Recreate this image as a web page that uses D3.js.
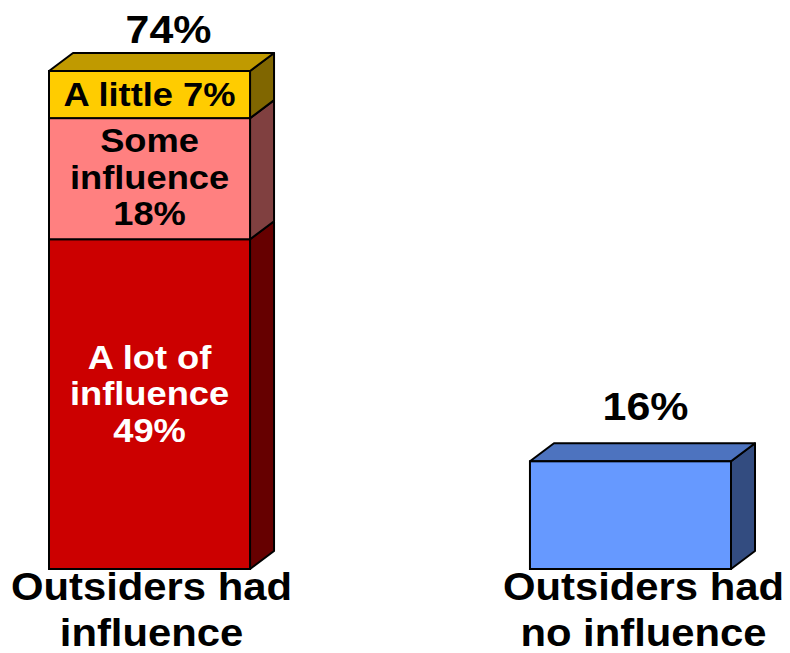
<!DOCTYPE html>
<html>
<head>
<meta charset="utf-8">
<script src="https://cdn.jsdelivr.net/npm/d3@7"></script>
<style>
  body { margin: 0; background: #fff; }
  text { font-family: "Liberation Sans", Arial, sans-serif; font-weight: bold; }
</style>
</head>
<body>
<div class="chart"></div>
<script>
const width = 790;
const height = 653;

// data
const categories = ["Outsiders had influence", "Outsiders had no influence"];
const categoryLines = [["Outsiders had", "influence"], ["Outsiders had", "no influence"]];
const segLabels = [["A lot of", "influence", "49%"], ["Some", "influence", "18%"], ["A little 7%"]];
const segValues = [49, 18, 7];
const noInfluence = 16;
const totals = ["74%", "16%"];

const segColors = [
  { front: "#CC0000", top: "#990000", side: "#660000", text: "#fff" },
  { front: "#FF8080", top: "#C06060", side: "#804040", text: "#000" },
  { front: "#FFCC00", top: "#C09A00", side: "#806600", text: "#000" }
];
const blue = { front: "#6699FF", top: "#4D73BF", side: "#334C80" };

const depthX = 24, depthY = 18;
const stretch = 1.1;

const svg = d3.select(".chart").append("svg").attr("width", width).attr("height", height);

const x = d3.scaleBand()
    .domain(categories)
    .range([49, 731])
    .paddingInner(0.582)
    .paddingOuter(0);

const y = d3.scaleLinear()
    .domain([0, 74])
    .range([569, 71]);

function box(g, x0, w, v0, v1, c, drawTop) {
  const yTop = y(v1), yBot = y(v0);
  g.append("path")
    .attr("d", `M${x0 + w},${yBot} L${x0 + w + depthX},${yBot - depthY} L${x0 + w + depthX},${yTop - depthY} L${x0 + w},${yTop} Z`)
    .attr("fill", c.side).attr("stroke", "#000").attr("stroke-width", 2).attr("stroke-linejoin", "round");
  if (drawTop) {
    g.append("path")
      .attr("d", `M${x0},${yTop} L${x0 + depthX},${yTop - depthY} L${x0 + w + depthX},${yTop - depthY} L${x0 + w},${yTop} Z`)
      .attr("fill", c.top).attr("stroke", "#000").attr("stroke-width", 2).attr("stroke-linejoin", "round");
  }
  g.append("rect")
    .attr("x", x0).attr("y", yTop).attr("width", w).attr("height", yBot - yTop)
    .attr("fill", c.front).attr("stroke", "#000").attr("stroke-width", 2);
}

// multi-line text, centred on cx, slightly widened like the original
function label(g, cx, lines, baseY, lineH, size, fill) {
  const t = g.append("text")
    .attr("transform", `translate(${cx},0) scale(${stretch},1)`)
    .attr("text-anchor", "middle")
    .attr("font-size", size)
    .attr("fill", fill);
  lines.forEach((s, k) => {
    t.append("tspan").attr("x", 0).attr("y", baseY + k * lineH).text(s);
  });
}

const g = svg.append("g");

// stacked bar
const bx = x(categories[0]);
const bw = x.bandwidth();
let cum = 0;
segValues.forEach((v, i) => {
  box(g, bx, bw, cum, cum + v, segColors[i], i === segValues.length - 1);
  cum += v;
});

// segment labels
const lineH = 36.5;
const segShift = [1, 10, 11];
cum = 0;
segValues.forEach((v, i) => {
  const mid = (y(cum) + y(cum + v)) / 2;
  const lines = segLabels[i];
  label(g, bx + bw / 2, lines, mid - (lines.length - 1) / 2 * lineH + segShift[i], lineH, 33, segColors[i].text);
  cum += v;
});

// single bar
const bx2 = x(categories[1]);
box(g, bx2, bw, 0, noInfluence, blue, true);

// totals
const totalVals = [d3.sum(segValues), noInfluence];
const totalDx = [19, 15], totalDy = [28, 41];
categories.forEach((c, i) => {
  label(g, x(c) + bw / 2 + totalDx[i], [totals[i]], y(totalVals[i]) - totalDy[i], 0, 39, "#000");
});

// category labels
const catDx = [2, 13];
categories.forEach((c, i) => {
  label(g, x(c) + bw / 2 + catDx[i], categoryLines[i], 600, 46, 38, "#000");
});
</script>
</body>
</html>
